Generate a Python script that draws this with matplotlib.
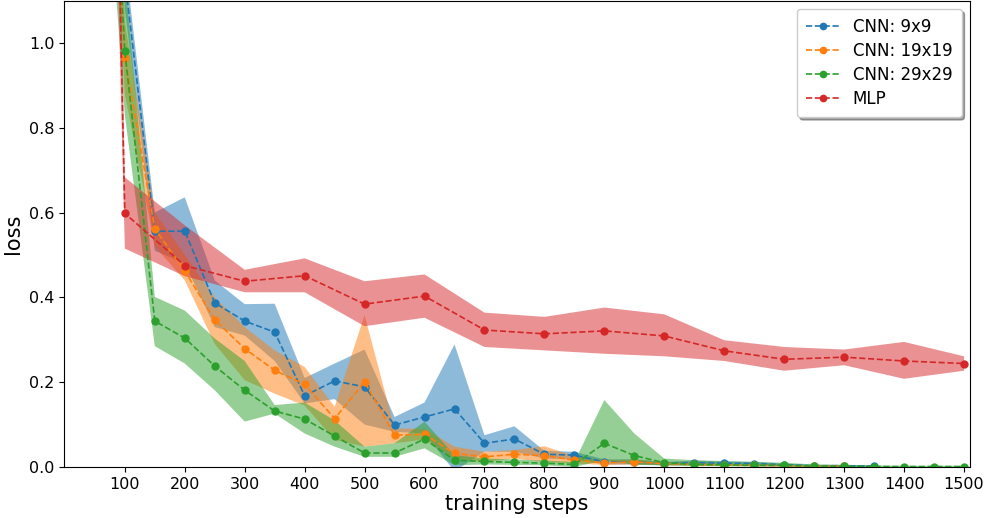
import numpy as np
import matplotlib
matplotlib.use("Agg")
import matplotlib.pyplot as plt

# ---------------- data ----------------
steps_9 = list(range(50, 1351, 50))
loss_9 = [3.0, 1.15, 0.556, 0.556, 0.387, 0.344, 0.318, 0.168, 0.203, 0.189,
          0.099, 0.118, 0.137, 0.056, 0.066, 0.030, 0.028, 0.012, 0.012, 0.008,
          0.010, 0.009, 0.008, 0.005, 0.003, 0.003, 0.002]
lo_9 = [2.8, 1.08, 0.51, 0.48, 0.33, 0.31, 0.25, 0.15, 0.16, 0.10,
        0.083, 0.079, -0.01, 0.036, 0.036, 0.02, 0.018, 0.006, 0.006, 0.004,
        0.005, 0.005, 0.004, 0.002, 0.001, 0.001, 0.0]
hi_9 = [3.2, 1.2, 0.60, 0.636, 0.44, 0.384, 0.385, 0.21, 0.244, 0.277,
        0.118, 0.152, 0.289, 0.075, 0.096, 0.038, 0.036, 0.018, 0.018, 0.012,
        0.015, 0.013, 0.012, 0.008, 0.005, 0.005, 0.004]

steps_19 = list(range(50, 1301, 50))
loss_19 = [2.5, 0.965, 0.562, 0.462, 0.347, 0.279, 0.228, 0.195, 0.114, 0.201,
           0.075, 0.077, 0.032, 0.024, 0.030, 0.027, 0.016, 0.010, 0.012, 0.008,
           0.006, 0.005, 0.004, 0.003, 0.002, 0.002]
lo_19 = [2.2, 0.88, 0.52, 0.44, 0.29, 0.205, 0.173, 0.145, 0.064, 0.048,
         0.056, 0.065, 0.02, 0.012, 0.02, 0.012, 0.008, 0.005, 0.006, 0.004,
         0.003, 0.002, 0.002, 0.001, 0.0, 0.0]
hi_19 = [2.8, 1.05, 0.60, 0.50, 0.40, 0.33, 0.275, 0.236, 0.142, 0.358,
         0.091, 0.09, 0.048, 0.036, 0.04, 0.049, 0.026, 0.016, 0.018, 0.012,
         0.01, 0.008, 0.007, 0.005, 0.004, 0.004]

steps_29 = list(range(50, 1501, 50))
loss_29 = [2.2, 0.98, 0.344, 0.304, 0.238, 0.181, 0.132, 0.113, 0.073, 0.033,
           0.033, 0.066, 0.016, 0.013, 0.011, 0.009, 0.006, 0.056, 0.027, 0.010,
           0.006, 0.005, 0.004, 0.004, 0.002, 0.002, 0.001, 0.001, 0.001, 0.001]
lo_29 = [1.8, 0.83, 0.285, 0.244, 0.181, 0.107, 0.126, 0.079, 0.048, 0.024,
         0.024, 0.044, 0.004, 0.006, 0.005, 0.004, 0.0, 0.016, 0.005, 0.004,
         0.002, 0.002, 0.001, 0.001, 0.0, 0.0, 0.0, 0.0, 0.0, 0.0]
hi_29 = [2.6, 1.15, 0.401, 0.369, 0.303, 0.25, 0.146, 0.152, 0.11, 0.048,
         0.056, 0.107, 0.028, 0.02, 0.018, 0.015, 0.012, 0.158, 0.079, 0.02,
         0.016, 0.014, 0.012, 0.01, 0.006, 0.005, 0.004, 0.003, 0.003, 0.003]

steps_mlp = list(range(0, 1501, 100))
loss_mlp = [7.0, 0.598, 0.475, 0.438, 0.451, 0.384, 0.403, 0.323, 0.314, 0.321,
            0.309, 0.274, 0.254, 0.259, 0.250, 0.244]
lo_mlp = [6.0, 0.515, 0.45, 0.412, 0.412, 0.332, 0.352, 0.283, 0.275, 0.267,
          0.261, 0.25, 0.227, 0.24, 0.208, 0.227]
hi_mlp = [8.0, 0.683, 0.57, 0.465, 0.492, 0.438, 0.454, 0.364, 0.354, 0.376,
          0.36, 0.299, 0.283, 0.277, 0.295, 0.261]

labels = ["CNN: 9x9", "CNN: 19x19", "CNN: 29x29", "MLP"]
xticks = list(range(100, 1501, 100))
yticks = [0.0, 0.2, 0.4, 0.6, 0.8, 1.0]

# ---------------- plot ----------------
fig = plt.figure(figsize=(9.9, 5.18), dpi=100)
ax = fig.add_axes([64 / 990, 51 / 518, 906 / 990, 466.5 / 518])

series = [
    (steps_9, loss_9, lo_9, hi_9, "tab:blue"),
    (steps_19, loss_19, lo_19, hi_19, "tab:orange"),
    (steps_29, loss_29, lo_29, hi_29, "tab:green"),
    (steps_mlp, loss_mlp, lo_mlp, hi_mlp, "tab:red"),
]
for (x, y, lo, hi, c), lab in zip(series, labels):
    ax.fill_between(x, lo, hi, color=c, alpha=0.5, linewidth=0)
    ax.plot(x, y, "--", color=c, marker="o", markersize=5, linewidth=1.2, label=lab)

ax.set_xlim(-1.5, 1510)
ax.set_ylim(0, 1.1)
ax.set_xticks(xticks)
ax.set_yticks(yticks)
ax.set_yticklabels([f"{v:.1f}" for v in yticks])
ax.tick_params(labelsize=11.5)
ax.set_xlabel("training steps", fontsize=15, labelpad=2)
ax.set_ylabel("loss", fontsize=15)
ax.legend(loc="upper right", fontsize=12, shadow=True, borderpad=0.55,
          labelspacing=0.36, markerscale=0.9)

fig.savefig("out.png", dpi=100)
